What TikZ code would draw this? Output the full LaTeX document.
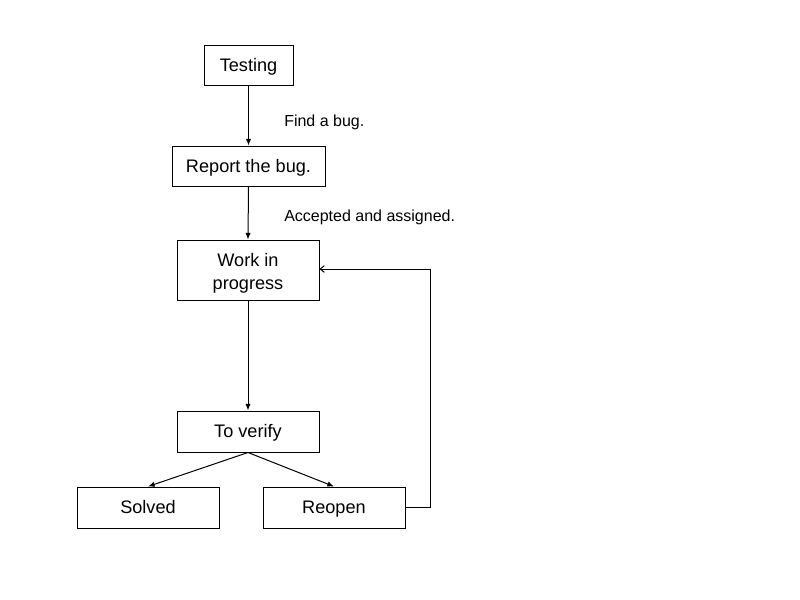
\documentclass[tikz,border=0pt]{standalone}
\usepackage{fontspec}
\setmainfont{Liberation Sans}
\usetikzlibrary{arrows.meta}
\begin{document}
\begin{tikzpicture}[x=0.75pt,y=-0.75pt,
  box/.style={draw,line width=0.75pt,inner sep=0pt,align=center,font=\fontsize{13.6}{17}\selectfont},
  one/.style={text height=1.1em,text depth=0.2em},
  lbl/.style={anchor=west,inner sep=0pt,font=\fontsize{12}{14}\selectfont,text height=1.1em,text depth=0.2em},
  conn/.style={draw,line width=0.75pt,-{Latex[length=5pt,width=4pt]}},
  back/.style={draw,line width=0.75pt,-{Straight Barb[length=3pt,width=5pt]}}]
\useasboundingbox (0,0) rectangle (800,600);
\node[box,one,minimum width=89*0.75pt,minimum height=40*0.75pt] (test) at (248.5,65) {Testing};
\node[box,one,minimum width=153*0.75pt,minimum height=40*0.75pt] (report) at (248.5,166) {Report the bug.};
\node[box,minimum width=142*0.75pt,minimum height=60*0.75pt] (work) at (248,270) {};
\node[font=\fontsize{13.6}{17}\selectfont,align=center,inner sep=0pt] (worktext) at ([yshift=-2.6pt]work.center) {Work in\\[0.6pt]progress};
\node[box,one,minimum width=142*0.75pt,minimum height=41*0.75pt] (verify) at (248,431.5) {To verify};
\node[box,one,minimum width=142*0.75pt,minimum height=41*0.75pt] (solved) at (148,507.5) {Solved};
\node[box,one,minimum width=142*0.75pt,minimum height=41*0.75pt] (reopen) at (334,507.5) {Reopen};
\node[lbl] (l1) at (284,120) {Find a bug.};
\node[lbl] (l2) at (284,215) {Accepted and assigned.};
\coordinate (c1) at (430,507.5);
\coordinate (c2) at (430,269);
\draw[conn] (test.south) -- (report.north);
\draw[conn] (report.south) -- (work.north);
\draw[conn] (work.south) -- (verify.north);
\draw[conn] (verify.south) -- (solved.north);
\draw[conn] (verify.south) -- (reopen.north);
\draw[back] (reopen.east) -- (c1) -- (c2) -- (work.east |- c2);
\end{tikzpicture}
\end{document}
